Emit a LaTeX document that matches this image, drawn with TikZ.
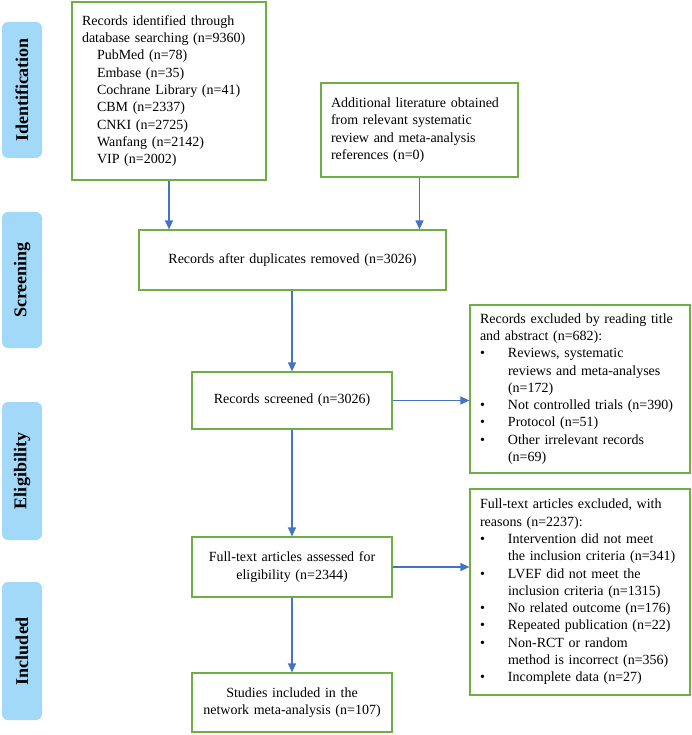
\documentclass[tikz,border=0pt]{standalone}
\usepackage{fontspec}
\setmainfont{Liberation Serif}
\usetikzlibrary{arrows.meta}
\definecolor{boxgreen}{HTML}{70AD47}
\definecolor{arrowblue}{HTML}{4472C4}
\definecolor{sideblue}{HTML}{A3D9F8}
\newcommand{\bul}{\makebox[28pt][l]{\textbullet}}
\newcommand{\cont}{\hspace*{28pt}}
\begin{document}
\begin{tikzpicture}[x=1pt,y=-1pt,
  box/.style={draw=boxgreen, line width=1.2pt, fill=white, inner xsep=10pt, inner ysep=0pt,
    font=\fontsize{14}{17.3}\selectfont},
  side/.style={fill=sideblue, rounded corners=6pt, minimum width=40pt, inner sep=0pt,
    font=\fontsize{18}{20}\selectfont\bfseries},
  arr/.style={draw=arrowblue, line width=1.2pt, -{Triangle[length=9pt,width=8pt]}}]
\useasboundingbox (0,0) rectangle (692,735);

% side labels
\node[side, minimum height=136pt] (sid) at (22,90) {\rotatebox{90}{Identification}};
\node[side, minimum height=136pt] (ssc) at (22,280) {\rotatebox{90}{Screening}};
\node[side, minimum height=138pt] (sel) at (22,471) {\rotatebox{90}{Eligibility}};
\node[side, minimum height=138pt] (sin) at (22,651) {\rotatebox{90}{Included}};

% boxes
\node[box, text width=174pt, minimum height=178pt, align=left] (b1) at (169,91)
  {Records identified through\\database searching (n=9360)\\
   \hspace*{15pt}PubMed (n=78)\\ \hspace*{15pt}Embase (n=35)\\
   \hspace*{15pt}Cochrane Library (n=41)\\ \hspace*{15pt}CBM (n=2337)\\
   \hspace*{15pt}CNKI (n=2725)\\ \hspace*{15pt}Wanfang (n=2142)\\
   \hspace*{15pt}VIP (n=2002)};
\node[box, text width=177pt, minimum height=94pt, align=left] (b2) at (419.5,130)
  {Additional literature obtained\\from relevant systematic\\review and meta-analysis\\references (n=0)};
\node[box, text width=287pt, minimum height=60pt, align=center] (b3) at (292.5,260)
  {Records after duplicates removed (n=3026)};
\node[box, text width=180pt, minimum height=57pt, align=center] (b4) at (292,400.5)
  {Records screened (n=3026)};
\node[box, text width=180pt, minimum height=60pt, align=center] (b5) at (292,567)
  {Full-text articles assessed for\\eligibility (n=2344)};
\node[box, text width=180pt, minimum height=59pt, align=center] (b6) at (292,702.5)
  {Studies included in the\\network meta-analysis (n=107)};
\node[box, text width=200pt, minimum height=168pt, align=left, inner xsep=10pt] (e1) at (580,389)
  {Records excluded by reading title\\and abstract (n=682):\\
   \bul Reviews, systematic\\ \cont reviews and meta-analyses\\ \cont (n=172)\\
   \bul Not controlled trials (n=390)\\ \bul Protocol (n=51)\\
   \bul Other irrelevant records\\ \cont (n=69)};
\node[box, text width=200pt, minimum height=206pt, align=left, inner xsep=10pt] (e2) at (580,592)
  {Full-text articles excluded, with\\reasons (n=2237):\\
   \bul Intervention did not meet\\ \cont the inclusion criteria (n=341)\\
   \bul LVEF did not meet the\\ \cont inclusion criteria (n=1315)\\
   \bul No related outcome (n=176)\\ \bul Repeated publication (n=22)\\
   \bul Non-RCT or random\\ \cont method is incorrect (n=356)\\
   \bul Incomplete data (n=27)};

% arrows
\draw[arr] (b1.south) -- (b1.south |- b3.north);
\draw[arr] (b2.south) -- (b2.south |- b3.north);
\draw[arr] (b4.north |- b3.south) -- (b4.north);
\draw[arr] (b4.east) -- (b4.east -| e1.west);
\draw[arr] (b4.south) -- (b5.north);
\draw[arr] (b5.east) -- (b5.east -| e2.west);
\draw[arr] (b5.south) -- (b6.north);
\end{tikzpicture}
\end{document}
